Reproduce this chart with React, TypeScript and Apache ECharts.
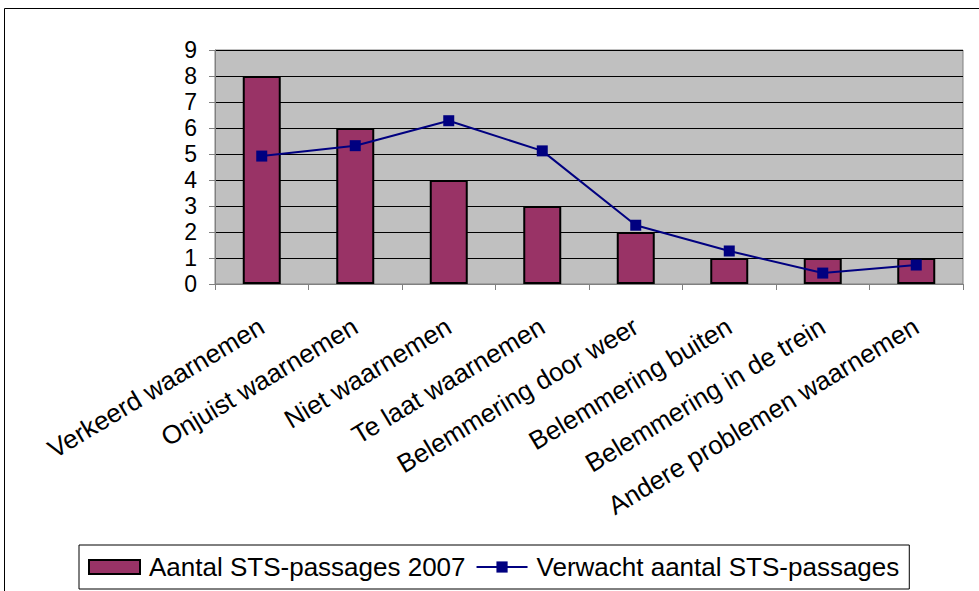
import React, { useEffect, useRef } from "react";
import * as echarts from "echarts";

const categories = [
  "Verkeerd waarnemen",
  "Onjuist waarnemen",
  "Niet waarnemen",
  "Te laat waarnemen",
  "Belemmering door weer",
  "Belemmering buiten",
  "Belemmering in de trein",
  "Andere problemen waarnemen",
];
const actualValues = [8, 6, 4, 3, 2, 1, 1, 1];
const expectedValues = [4.92, 5.32, 6.28, 5.12, 2.26, 1.27, 0.42, 0.73];
const barName = "Aantal STS-passages 2007";
const lineName = "Verwacht aantal STS-passages";

const FONT = "'Liberation Sans', Arial, sans-serif";

export default function App() {
  const ref = useRef<HTMLDivElement>(null);
  useEffect(() => {
    if (!ref.current) return;
    const chart = echarts.init(ref.current, undefined, { renderer: "svg" });
    chart.setOption({
      animation: false,
      backgroundColor: "#ffffff",
      textStyle: { fontFamily: FONT },
      grid: {
        left: 215,
        right: 16,
        top: 50,
        bottom: 307,
        show: true,
        backgroundColor: "#c0c0c0",
        borderColor: "#808080",
        borderWidth: 1,
      },
      legend: {
        left: 79,
        top: 545,
        orient: "horizontal",
        borderColor: "#000000",
        borderWidth: 1,
        padding: [9, 10, 9, 9],
        itemGap: 10,
        itemWidth: 51,
        itemHeight: 14,
        textStyle: {
          fontSize: 26,
          color: "#000000",
          fontFamily: FONT,
          padding: [0, 0, 0, 4],
        },
        data: [
          { name: barName, icon: "rect" },
          { name: lineName },
        ],
      },
      xAxis: {
        type: "category",
        data: categories,
        boundaryGap: true,
        axisLine: { show: true, lineStyle: { color: "#808080", width: 1 } },
        axisTick: {
          show: true,
          alignWithLabel: false,
          length: 6,
          lineStyle: { color: "#808080" },
        },
        axisLabel: {
          interval: 0,
          rotate: 31,
          margin: 40,
          fontSize: 26,
          color: "#000000",
          fontFamily: FONT,
        },
        splitLine: { show: false },
      },
      yAxis: {
        type: "value",
        min: 0,
        max: 9,
        interval: 1,
        axisLine: { show: true, lineStyle: { color: "#808080", width: 1 } },
        axisTick: { show: true, length: 6, lineStyle: { color: "#808080" } },
        axisLabel: {
          margin: 18,
          fontSize: 23,
          color: "#000000",
          fontFamily: FONT,
        },
        splitLine: { show: true, lineStyle: { color: "#000000", width: 1 } },
      },
      series: [
        {
          name: barName,
          type: "bar",
          data: actualValues,
          barWidth: 38,
          itemStyle: {
            color: "#993366",
            borderColor: "#000000",
            borderWidth: 2,
          },
        },
        {
          name: lineName,
          type: "line",
          data: expectedValues,
          symbol: "rect",
          symbolSize: 11,
          lineStyle: { color: "#000080", width: 2 },
          itemStyle: { color: "#000080" },
          z: 5,
        },
      ],
      graphic: [
        {
          type: "line",
          shape: { x1: 4.5, y1: 8.5, x2: 979, y2: 8.5 },
          style: { stroke: "#000000", lineWidth: 1 },
        },
        {
          type: "line",
          shape: { x1: 4.5, y1: 8.5, x2: 4.5, y2: 591 },
          style: { stroke: "#000000", lineWidth: 1 },
        },
      ],
    });
    return () => chart.dispose();
  }, []);
  return (
    <div
      ref={ref}
      style={{ position: "fixed", left: 0, top: 0, width: 979, height: 591 }}
    />
  );
}
